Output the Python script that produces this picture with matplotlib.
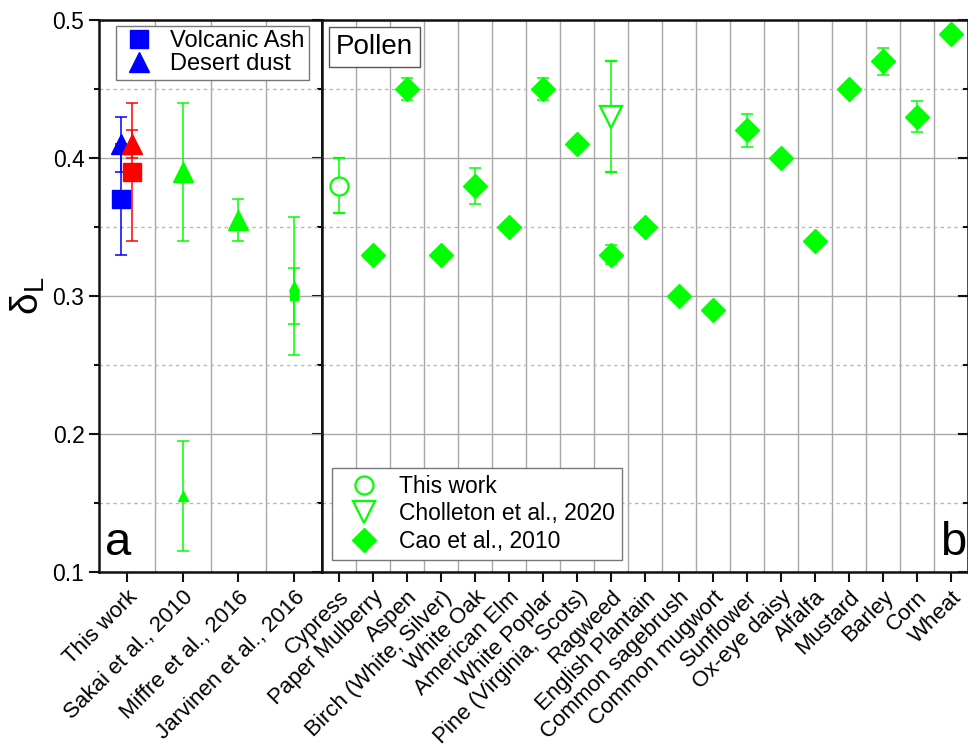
import matplotlib
matplotlib.use("Agg")
import matplotlib.pyplot as plt
from matplotlib.ticker import MultipleLocator, FixedLocator
from matplotlib.lines import Line2D

plt.rcParams['font.family'] = ['Liberation Sans', 'DejaVu Sans']
plt.rcParams['mathtext.fontset'] = 'custom'
plt.rcParams['mathtext.rm'] = 'Liberation Sans'

# ---- data, panel a ----
ref_cats = ['This work', 'Sakai et al., 2010', 'Miffre et al., 2016', 'Jarvinen et al., 2016']

# this work (blue / red)
blue_sq_val, blue_sq_err = 0.37, 0.04
blue_tri_val, blue_tri_err = 0.41, 0.02
red_sq_val, red_sq_err = 0.39, 0.05
red_tri_val, red_tri_err = 0.41, 0.01

# literature (green), category index, value, error
big_tri_idx = [1, 2]
big_tri_val = [0.39, 0.355]
big_tri_err = [0.05, 0.015]
small_tri_idx = [1, 3]
small_tri_val = [0.155, 0.307]
small_tri_err = [0.04, 0.05]
small_sq_idx = [3]
small_sq_val = [0.30]
small_sq_err = [0.02]

# ---- data, panel b ----
pollen_cats = ['Cypress', 'Paper Mulberry', 'Aspen', 'Birch (White, Silver)', 'White Oak',
               'American Elm', 'White Poplar', 'Pine (Virginia, Scots)', 'Ragweed',
               'English Plantain', 'Common sagebrush', 'Common mugwort', 'Sunflower',
               'Ox-eye daisy', 'Alfalfa', 'Mustard', 'Barley', 'Corn', 'Wheat']
thiswork_idx, thiswork_val, thiswork_err = [0], [0.38], [0.02]
chol_idx, chol_val, chol_err = [8], [0.43], [0.04]
cao_idx = list(range(1, 19))
cao_val = [0.33, 0.45, 0.33, 0.38, 0.35, 0.45, 0.41, 0.33, 0.35,
           0.30, 0.29, 0.42, 0.40, 0.34, 0.45, 0.47, 0.43, 0.49]
cao_err = [0, 0.008, 0, 0.013, 0, 0.008, 0, 0.007, 0,
           0, 0, 0.012, 0, 0, 0, 0.010, 0.011, 0]

green = '#00ff00'
blue = '#0000ff'
red = '#ff0000'

fig = plt.figure(figsize=(9.68, 7.48), dpi=100)
W, H = 968, 748
bot, top = 1 - 572 / H, 1 - 20 / H
ax1 = fig.add_axes([99 / W, bot, (322 - 99) / W, top - bot])
ax2 = fig.add_axes([322 / W, bot, (968 - 322) / W, top - bot])

ebkw = dict(capsize=4.5, elinewidth=1.1, capthick=1.1, linestyle='none')

# panel a
ax1.errorbar([0 - 0.1], [blue_sq_val], yerr=[blue_sq_err], fmt='s', color=blue, ms=13, **ebkw)
ax1.errorbar([0 - 0.1], [blue_tri_val], yerr=[blue_tri_err], fmt='^', color=blue, ms=15, **ebkw)
ax1.errorbar([0 + 0.1], [red_sq_val], yerr=[red_sq_err], fmt='s', color=red, ms=13, **ebkw)
ax1.errorbar([0 + 0.1], [red_tri_val], yerr=[red_tri_err], fmt='^', color=red, ms=15, **ebkw)
ax1.errorbar(big_tri_idx, big_tri_val, yerr=big_tri_err, fmt='^', color=green, ms=15, **ebkw)
ax1.errorbar(small_tri_idx, small_tri_val, yerr=small_tri_err, fmt='^', color=green, ms=7, **ebkw)
ax1.errorbar(small_sq_idx, small_sq_val, yerr=small_sq_err, fmt='s', color=green, ms=6, **ebkw)

# panel b
ax2.errorbar(thiswork_idx, thiswork_val, yerr=thiswork_err, fmt='o', color=green,
             mfc='white', mec=green, mew=1.6, ms=13, **ebkw)
ax2.errorbar(chol_idx, chol_val, yerr=chol_err, fmt='v', color=green,
             mfc='white', mec=green, mew=1.6, ms=16, **ebkw)
ax2.errorbar(cao_idx, cao_val, yerr=cao_err, fmt='D', color=green, ms=12.5, **ebkw)

for ax, n in [(ax1, len(ref_cats)), (ax2, len(pollen_cats))]:
    ax.set_xlim(-0.5, n - 0.5)
    ax.set_ylim(0.1, 0.5)
    ax.yaxis.set_major_locator(MultipleLocator(0.1))
    ax.yaxis.set_minor_locator(MultipleLocator(0.05))
    ax.xaxis.set_major_locator(FixedLocator(range(n)))
    ax.xaxis.set_minor_locator(FixedLocator([i + 0.5 for i in range(n - 1)]))
    ax.grid(True, which='major', axis='y', color='#a8a8a8', lw=1.0)
    ax.grid(True, which='minor', axis='y', color='#b8b8b8', lw=1.0, ls=(0, (2.5, 2.5)))
    ax.grid(True, which='minor', axis='x', color='#a8a8a8', lw=1.0)
    ax.set_axisbelow(True)
    for s in ax.spines.values():
        s.set_linewidth(1.8)
        s.set_color('#111111')
    ax.tick_params(axis='x', which='major', direction='out', length=7, width=1.5,
                   labelsize=16, color='#111111', top=False)
    ax.tick_params(axis='x', which='minor', length=0)
    ax.tick_params(axis='y', which='major', length=7, width=1.5, color='#111111')
    ax.tick_params(axis='y', which='minor', length=3.5, width=1.5, color='#111111')

ax1.set_xticklabels(ref_cats)
ax2.set_xticklabels(pollen_cats)
for ax in (ax1, ax2):
    for lab in ax.get_xticklabels():
        lab.set_rotation(45)
        lab.set_ha('right')
        lab.set_va('top')
        lab.set_rotation_mode('anchor')

ax1.tick_params(axis='y', which='both', direction='out', left=True, right=False, labelsize=16.5)
ax1r = ax1.secondary_yaxis('right')
ax1r.yaxis.set_major_locator(MultipleLocator(0.1))
ax1r.yaxis.set_minor_locator(MultipleLocator(0.05))
ax1r.tick_params(axis='y', which='major', direction='in', length=7, width=1.5, labelright=False)
ax1r.tick_params(axis='y', which='minor', direction='in', length=3.5, width=1.5)
ax1r.spines['right'].set_linewidth(1.8)

ax2.tick_params(axis='y', which='both', left=False, labelleft=False, right=True,
                direction='in')

ax1.set_ylabel('δ$_\\mathrm{L}$', fontsize=28, labelpad=4)

# legends and labels
h1 = [Line2D([], [], marker='s', color=blue, ls='none', ms=13),
      Line2D([], [], marker='^', color=blue, ls='none', ms=15)]
leg1 = ax1.legend(h1, ['Volcanic Ash', 'Desert dust'], loc='upper left',
                  bbox_to_anchor=(0.075, 0.99), borderaxespad=0, fontsize=17,
                  fancybox=False, edgecolor='#777777', framealpha=1,
                  handletextpad=0.5, labelspacing=0.05, borderpad=0.2, handlelength=1.6)
leg1.get_frame().set_linewidth(1.0)

h2 = [Line2D([], [], marker='o', color=green, mfc='white', mew=1.6, ls='none', ms=13),
      Line2D([], [], marker='v', color=green, mfc='white', mew=1.6, ls='none', ms=16),
      Line2D([], [], marker='D', color=green, ls='none', ms=12.5)]
leg2 = ax2.legend(h2, ['This work', 'Cholleton et al., 2020', 'Cao et al., 2010'],
                  loc='lower left', bbox_to_anchor=(0.015, 0.022), borderaxespad=0,
                  fontsize=16.5, fancybox=False, edgecolor='#777777', framealpha=1,
                  handletextpad=0.45, labelspacing=0.2, borderpad=0.3, handlelength=2.2)
leg2.get_frame().set_linewidth(1.0)

ax2.text(0.022, 0.975, 'Pollen', transform=ax2.transAxes, fontsize=20, ha='left', va='top',
         bbox=dict(boxstyle='square,pad=0.25', fc='white', ec='#555555', lw=1.0))
ax1.text(0.025, 0.012, 'a', transform=ax1.transAxes, fontsize=34, ha='left', va='bottom')
ax2.text(0.997, 0.012, 'b', transform=ax2.transAxes, fontsize=34, ha='right', va='bottom')

fig.savefig('out.png', dpi=100)
